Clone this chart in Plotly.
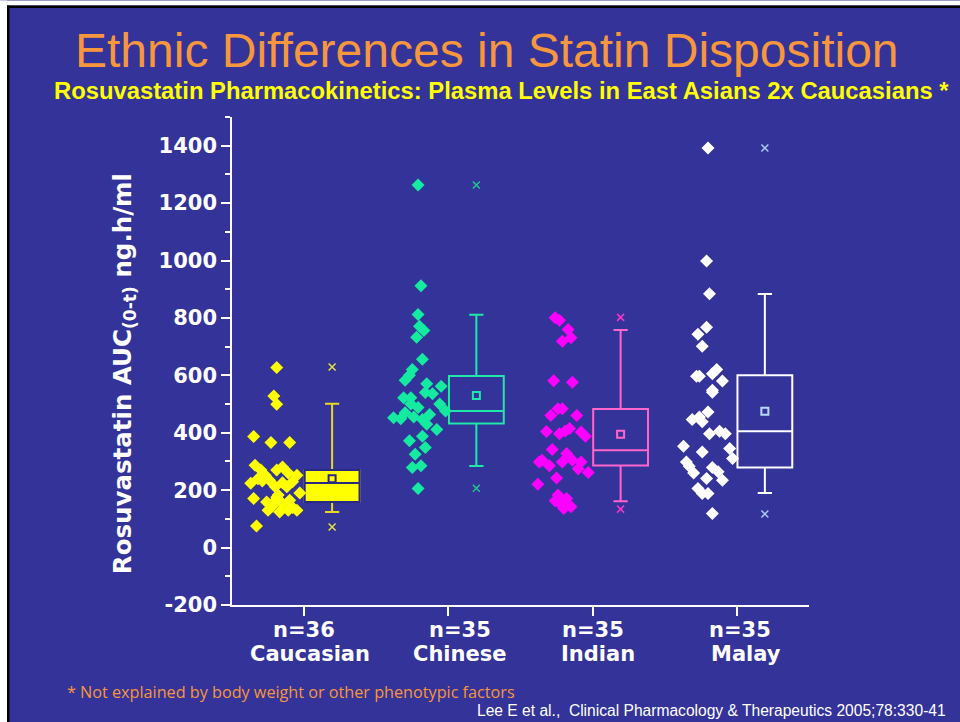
import plotly.graph_objects as go

# ---- data -------------------------------------------------------------
groups = ["Caucasian", "Chinese", "Indian", "Malay"]
n_labels = ["n=36", "n=35", "n=35", "n=35"]

cauc_auc = [627, 528, 499, 387, 366, 366, 287, 270, 252, 235, 212, 183, 154, 252,
            229, 212, 226, 175, 154, 130, 270, 281, 232, 171, 159, 130, 130, 124,
            224, 75, 145, 140, 190, 260, 240, 165]
cauc_jit = [-0.19, -0.21, -0.19, -0.35, -0.23, -0.10, -0.34, -0.30, -0.27, -0.24,
            -0.20, -0.18, -0.15, -0.05, -0.08, -0.12, -0.15, -0.19, -0.22, -0.25,
            -0.19, -0.15, -0.29, -0.35, -0.26, -0.11, -0.05, -0.17, -0.37, -0.33,
            -0.22, -0.08, -0.03, -0.11, -0.32, -0.10]

chin_auc = [1263, 912, 812, 771, 756, 733, 656, 620, 600, 583, 571, 562, 536, 522,
            522, 476, 488, 455, 446, 464, 449, 411, 388, 349, 325, 279, 285, 206,
            452, 470, 430, 500, 372, 540, 500]
chin_jit = [-0.21, -0.19, -0.21, -0.20, -0.17, -0.22, -0.18, -0.25, -0.27, -0.30,
            -0.15, -0.05, -0.11, -0.31, -0.26, -0.02, -0.21, -0.24, -0.18, -0.13,
            -0.33, -0.08, -0.18, -0.16, -0.23, -0.25, -0.19, -0.21, -0.38, -0.30,
            -0.15, -0.06, -0.27, -0.16, -0.26]

indi_auc = [801, 792, 760, 719, 731, 581, 576, 484, 484, 460, 460, 404, 397, 406,
            415, 403, 388, 342, 328, 304, 298, 285, 298, 304, 298, 275, 262, 242,
            221, 183, 163, 171, 136, 142, 155]
indi_jit = [-0.26, -0.23, -0.17, -0.21, -0.15, -0.27, -0.14, -0.24, -0.21, -0.29,
            -0.11, -0.32, -0.23, -0.19, -0.16, -0.08, -0.05, -0.28, -0.18, -0.35,
            -0.37, -0.30, -0.21, -0.14, -0.08, -0.10, -0.03, -0.25, -0.38, -0.24,
            -0.26, -0.18, -0.20, -0.15, -0.23]

mala_auc = [1392, 998, 884, 768, 743, 701, 597, 597, 606, 620, 580, 548, 541, 472,
            446, 438, 397, 405, 397, 353, 333, 345, 310, 298, 283, 260, 279, 264,
            235, 241, 206, 188, 188, 119, 455]
mala_jit = [-0.20, -0.21, -0.19, -0.21, -0.27, -0.24, -0.28, -0.26, -0.17, -0.14,
            -0.10, -0.17, -0.17, -0.20, -0.31, -0.24, -0.19, -0.12, -0.08, -0.37,
            -0.24, -0.05, -0.03, -0.35, -0.33, -0.30, -0.17, -0.13, -0.10, -0.21,
            -0.27, -0.24, -0.20, -0.17, -0.26]

# box summary statistics per group
q1 = [159, 432, 286, 279]
median = [225, 476, 339, 405]
q3 = [270, 598, 483, 600]
whisk_lo = [124, 284, 161, 190]
whisk_hi = [501, 811, 758, 883]
means = [240, 530, 395, 475]
mins = [72, 207, 134, 117]
maxs = [629, 1263, 802, 1392]

y_ticks = [-200, 0, 200, 400, 600, 800, 1000, 1200, 1400]
y_tick_text = ["-200", "0", "200", "400", "600", "800", "1000", "1200", "1400"]

# ---- styling ----------------------------------------------------------
BG = "#333399"
pt_colors = ["#FFFF00", "#14EBA0", "#FF00FF", "#FFFFFF"]
box_line = ["#E8D820", "#20E8A8", "#FF66CC", "#FFFFFF"]
box_fill = ["#FFFF00", "rgba(0,0,0,0)", "rgba(0,0,0,0)", "rgba(0,0,0,0)"]
mean_col = ["#2A2A80", "#20E8A8", "#FF66CC", "#B8D8FF"]
ext_col = ["#E8E040", "#20C890", "#FF33CC", "#A8C8F0"]

W, H = 960, 722
L, R, T, B = 232, 151, 116.5, 117
PW, PH = W - L - R, H - T - B


def fx(px):
    return (px - L) / PW


def fy(py):
    return (H - B - py) / PH


BOX_OFF = 0.194
all_auc = [cauc_auc, chin_auc, indi_auc, mala_auc]
all_jit = [cauc_jit, chin_jit, indi_jit, mala_jit]

fig = go.Figure()

for i, g in enumerate(groups):
    c = i + 1
    fig.add_trace(go.Scatter(
        x=[c + j for j in all_jit[i]], y=all_auc[i], mode="markers",
        marker=dict(symbol="diamond", size=10, color=pt_colors[i], line=dict(width=0)),
        name=g, showlegend=False, cliponaxis=False))

    bx = c + BOX_OFF
    fig.add_trace(go.Box(
        x=[bx], q1=[q1[i]], median=[median[i]], q3=[q3[i]],
        lowerfence=[whisk_lo[i]], upperfence=[whisk_hi[i]],
        width=0.38, whiskerwidth=0.26, boxpoints=False,
        line=dict(color=box_line[i], width=2), fillcolor=box_fill[i],
        showlegend=False, hoverinfo="skip"))
    if i == 0:
        # filled box drawn again with a dark outline and median, no whiskers
        fig.add_trace(go.Box(
            x=[bx], q1=[q1[i]], median=[median[i]], q3=[q3[i]],
            lowerfence=[q1[i]], upperfence=[q3[i]],
            width=0.38, whiskerwidth=0, boxpoints=False,
            line=dict(color="#2A2A80", width=2), fillcolor="#FFFF00",
            showlegend=False, hoverinfo="skip"))

    fig.add_trace(go.Scatter(
        x=[bx], y=[means[i]], mode="markers",
        marker=dict(symbol="square-open", size=7, color=mean_col[i], line=dict(width=2)),
        showlegend=False, hoverinfo="skip"))
    fig.add_trace(go.Scatter(
        x=[bx, bx], y=[mins[i], maxs[i]], mode="markers",
        marker=dict(symbol="x-thin", size=7, line=dict(width=1.5, color=ext_col[i])),
        showlegend=False, hoverinfo="skip"))

annotations = [
    dict(text="Ethnic Differences in Statin Disposition", x=fx(487), y=fy(50),
         font=dict(family="Liberation Sans, Arial", size=48, color="#F7963C")),
    dict(text="<b>Rosuvastatin Pharmacokinetics: Plasma Levels in East Asians 2x Caucasians *</b>",
         x=fx(501), y=fy(90),
         font=dict(family="Liberation Sans, Arial", size=23.8, color="#FFFF00")),
    dict(text="<b>Rosuvastatin AUC<sub>(0-t)</sub> ng.h/ml</b>", x=fx(124), y=fy(374),
         textangle=-90, font=dict(family="DejaVu Sans", size=24.5, color="white")),
    dict(text="* Not explained by body weight or other phenotypic factors",
         x=fx(65), y=fy(692), xanchor="left",
         font=dict(family="Open Sans", size=16.2, color="#F7963C")),
    dict(text="Lee E et al.,  Clinical Pharmacology &amp; Therapeutics 2005;78:330-41",
         x=fx(948), y=fy(711), xanchor="right",
         font=dict(family="Liberation Sans, Arial", size=15.6, color="white")),
]
for a in annotations:
    a.setdefault("xanchor", "center")
    a.update(xref="paper", yref="paper", yanchor="middle", showarrow=False)

# category labels under the axis
n_dx = [0.0, 0.08, 0.0, 0.02]
lab_dx = [0.04, 0.08, 0.04, 0.06]
for i, g in enumerate(groups):
    annotations.append(dict(text=f"<b>{n_labels[i]}</b>", x=i + 1 + n_dx[i], xref="x",
                            y=fy(630), yref="paper", yanchor="middle", showarrow=False,
                            font=dict(family="DejaVu Sans", size=21, color="white")))
    annotations.append(dict(text=f"<b>{g}</b>", x=i + 1 + lab_dx[i], xref="x",
                            y=fy(654), yref="paper", yanchor="middle", showarrow=False,
                            font=dict(family="DejaVu Sans", size=21, color="white")))

shapes = [
    dict(type="rect", x0=fx(0), x1=fx(7), y0=fy(H), y1=fy(0), fillcolor="white", line_width=0),
    dict(type="rect", x0=fx(0), x1=fx(W), y0=fy(5), y1=fy(0), fillcolor="white", line_width=0),
    dict(type="rect", x0=fx(7), x1=fx(9.5), y0=fy(H), y1=fy(5), fillcolor="black", line_width=0),
    dict(type="rect", x0=fx(7), x1=fx(W), y0=fy(7.5), y1=fy(5), fillcolor="black", line_width=0),
]
for s in shapes:
    s.update(xref="paper", yref="paper", layer="below")

fig.update_layout(
    width=W, height=H, autosize=False,
    margin=dict(l=L, r=R, t=T, b=B, pad=0),
    paper_bgcolor=BG, plot_bgcolor=BG,
    boxmode="overlay", showlegend=False,
    annotations=annotations, shapes=shapes,
    xaxis=dict(range=[0.5, 4.5], tickvals=[1, 2, 3, 4], showticklabels=False,
               ticks="outside", ticklen=9, tickwidth=1.5, tickcolor="white",
               showline=True, linecolor="white", linewidth=1.5,
               showgrid=False, zeroline=False, fixedrange=True),
    yaxis=dict(range=[-200, 1500], tickvals=y_ticks, ticktext=y_tick_text,
               ticks="outside", ticklen=9, tickwidth=1.5, tickcolor="white",
               minor=dict(dtick=100, tick0=0, ticks="outside", ticklen=5,
                          tickwidth=1.5, tickcolor="white"),
               tickfont=dict(family="DejaVu Sans", size=21, color="white", weight="bold"),
               showline=True, linecolor="white", linewidth=1.5,
               showgrid=False, zeroline=False, fixedrange=True),
)

fig.write_html("out.html")
